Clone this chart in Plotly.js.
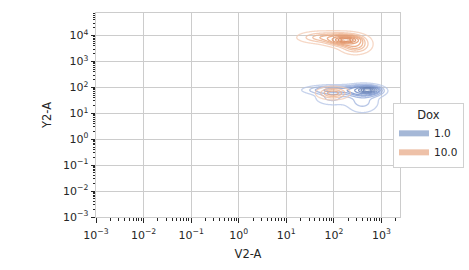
<!DOCTYPE html>
<html><head><meta charset="utf-8">
<script src="https://cdn.plot.ly/plotly-3.0.1.min.js"></script>
<style>html,body{margin:0;padding:0;background:#fff}</style>
</head><body><div id="chart" style="width:469px;height:270px"></div>
<script>
// Hue groups
const groups = ['1.0', '10.0'];
// Kernel components (log10 V2-A, log10 Y2-A)
const blueCx = [2.71, 2.64, 2.00, 2.60, 1.95];
const blueCy = [1.90, 1.87, 1.90, 1.45, 1.60];
const blueSx = [0.10, 0.20, 0.33, 0.22, 0.22];
const blueSy = [0.06, 0.12, 0.10, 0.28, 0.18];
const blueW  = [0.27, 0.33, 0.18, 0.13, 0.08];
const orangeCx = [2.25, 2.22, 1.75, 2.45, 1.98];
const orangeCy = [3.83, 3.84, 3.93, 3.62, 1.78];
const orangeSx = [0.12, 0.22, 0.28, 0.18, 0.18];
const orangeSy = [0.06, 0.14, 0.13, 0.18, 0.13];
const orangeW  = [0.25, 0.30, 0.15, 0.17, 0.13];
// Ticks
const decades = [-3, -2, -1, 0, 1, 2, 3];
const xTickText = ['10<sup>−3</sup>','10<sup>−2</sup>','10<sup>−1</sup>','10<sup>0</sup>','10<sup>1</sup>','10<sup>2</sup>','10<sup>3</sup>'];
const yDecades = [-3, -2, -1, 0, 1, 2, 3, 4];
const yTickText = ['10<sup>−3</sup>','10<sup>−2</sup>','10<sup>−1</sup>','10<sup>0</sup>','10<sup>1</sup>','10<sup>2</sup>','10<sup>3</sup>','10<sup>4</sup>'];
const legendColors = ['rgba(76,114,176,0.5)', 'rgba(221,132,82,0.5)'];

const gxs = [], gys = [];
for (let v = 0.5; v <= 3.4; v += 0.012) gxs.push(v);
for (let v = 0.2; v <= 4.8; v += 0.012) gys.push(v);

function densityProp(cx, cy, sx, sy, w) {
  const n = gys.length, m = gxs.length;
  const d = new Float64Array(n * m);
  for (let i = 0; i < n; i++) for (let j = 0; j < m; j++) {
    let s = 0;
    for (let k = 0; k < cx.length; k++) {
      const a = (gxs[j] - cx[k]) / sx[k], b = (gys[i] - cy[k]) / sy[k];
      s += w[k] / (sx[k] * sy[k]) * Math.exp(-0.5 * (a * a + b * b));
    }
    d[i * m + j] = s;
  }
  const idx = Array.from(d.keys()).sort((a, b) => d[a] - d[b]);
  let tot = 0; for (const v of d) tot += v;
  const p = new Float64Array(n * m);
  let c = 0;
  for (const t of idx) { c += d[t]; p[t] = c / tot; }
  const z = [];
  for (let i = 0; i < n; i++) z.push(Array.from(p.slice(i * m, (i + 1) * m)));
  return z;
}

const xv = gxs.map(v => Math.pow(10, v));
const yv = gys.map(v => Math.pow(10, v));
const levels = {start: 0.05, end: 0.9, size: 0.95 / 9, coloring: 'lines'};

const traces = [
  {type: 'contour', x: xv, y: yv, z: densityProp(blueCx, blueCy, blueSx, blueSy, blueW),
   contours: levels, autocontour: false, zmin: 0.05, zmax: 0.8944, showscale: false,
   colorscale: [[0, '#b4c4e6'], [0.5, '#6c8acb'], [1, '#4565a6']], line: {width: 1.3, smoothing: 0.8},
   opacity: 0.75, hoverinfo: 'skip', showlegend: false},
  {type: 'contour', x: xv, y: yv, z: densityProp(orangeCx, orangeCy, orangeSx, orangeSy, orangeW),
   contours: levels, autocontour: false, zmin: 0.05, zmax: 0.8944, showscale: false,
   colorscale: [[0, '#f4cbb3'], [0.5, '#e89b6c'], [1, '#d7743d']], line: {width: 1.3, smoothing: 0.8},
   opacity: 0.75, hoverinfo: 'skip', showlegend: false}
];
groups.forEach((g, i) => traces.push({type: 'scatter', x: [1e-6], y: [1e-6], mode: 'none', fill: 'toself',
  fillcolor: legendColors[i], name: g, showlegend: true, hoverinfo: 'skip'}));

const minorX = [], minorY = [];
decades.forEach(d => { for (let k = 2; k <= 9; k++) minorX.push(k * Math.pow(10, d)); });
yDecades.forEach(d => { for (let k = 2; k <= 9; k++) minorY.push(k * Math.pow(10, d)); });

const txt = '#262626';
const axisBase = {
  type: 'log', ticks: 'outside', ticklen: 4.5, tickwidth: 1, tickcolor: txt, automargin: false,
  showgrid: true, gridcolor: '#cccccc', gridwidth: 1, showline: true, linecolor: '#cccccc', linewidth: 1,
  mirror: true, zeroline: false, tickfont: {size: 11, color: txt}
};
const layout = {
  width: 469, height: 270, margin: {l: 96, r: 69, t: 13, b: 53, autoexpand: false},
  paper_bgcolor: '#fff', plot_bgcolor: '#fff',
  font: {family: 'DejaVu Sans', color: txt},
  xaxis: Object.assign({}, axisBase, {range: [-3, 3.39], tickmode: 'array',
    tickvals: decades.map(d => Math.pow(10, d)), ticktext: xTickText, ticklabelstandoff: 3,
    minor: {tickmode: 'array', tickvals: minorX, ticks: 'outside', ticklen: 2.5, tickcolor: txt, showgrid: false},
    title: {text: 'V2-A', font: {size: 11.5, color: txt}, standoff: 9}}),
  yaxis: Object.assign({}, axisBase, {range: [-3, 4.87], tickmode: 'array',
    tickvals: yDecades.map(d => Math.pow(10, d)), ticktext: yTickText,
    minor: {tickmode: 'array', tickvals: minorY, ticks: 'outside', ticklen: 2.5, tickcolor: txt, showgrid: false},
    title: {text: 'Y2-A', font: {size: 11.5, color: txt}, standoff: 8}}),
  legend: {x: 1.2105, xanchor: 'right', y: 0.40, yanchor: 'middle', bgcolor: '#fff',
    bordercolor: '#d0d0d0', borderwidth: 1, font: {size: 10.5, color: txt}, itemwidth: 30,
    title: {text: 'Dox', side: 'top center', font: {size: 11.5, color: txt}}},
  showlegend: true
};
Plotly.newPlot('chart', traces, layout, {displayModeBar: false, staticPlot: true});
</script></body></html>
